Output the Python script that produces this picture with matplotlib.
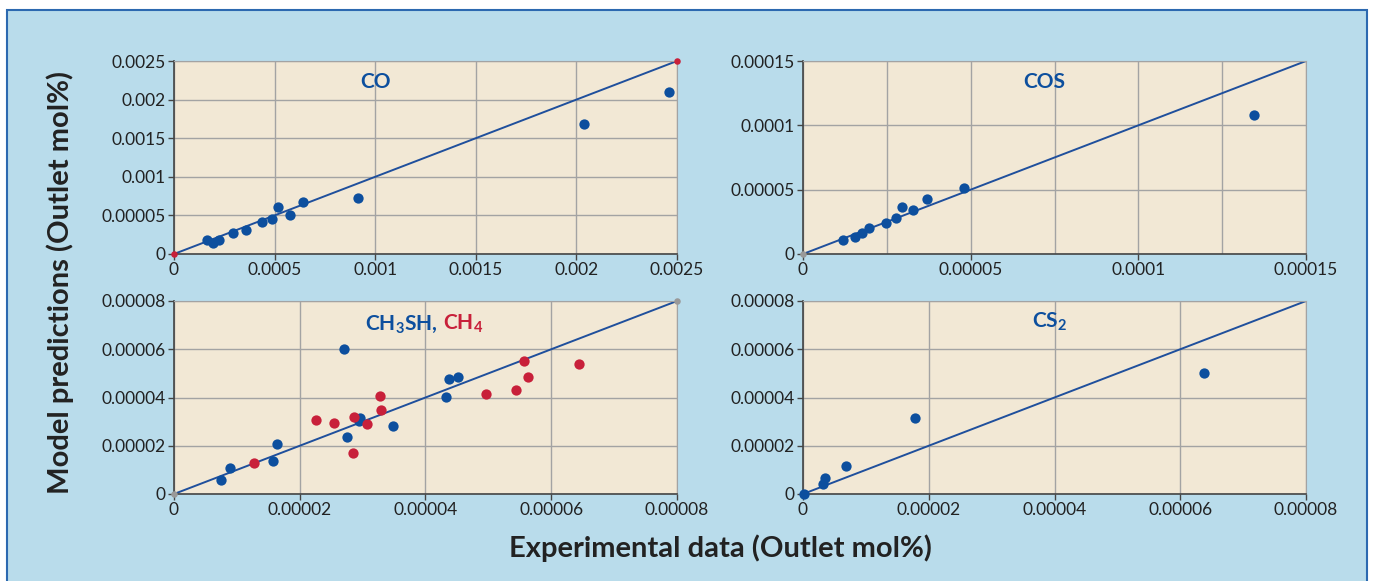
import matplotlib
matplotlib.use("Agg")
import matplotlib.pyplot as plt
from matplotlib.patches import Rectangle
from matplotlib.ticker import MultipleLocator

plt.rcParams['font.family'] = ['Lato', 'DejaVu Sans']
plt.rcParams['mathtext.fontset'] = 'custom'
plt.rcParams['mathtext.bf'] = 'Lato:bold'
plt.rcParams['mathtext.rm'] = 'Lato:bold'

# CO panel
co_x = [0.000162, 0.000195, 0.000223, 0.000292, 0.000357, 0.000437, 0.000485,
        0.000517, 0.000578, 0.000639, 0.000914, 0.002036, 0.002462]
co_y = [0.000175, 0.000144, 0.000175, 0.000271, 0.000315, 0.000415, 0.000450,
        0.000608, 0.000511, 0.000677, 0.000730, 0.001680, 0.002100]
co_ticks = [0, 0.0005, 0.001, 0.0015, 0.002, 0.0025]
co_xlabels = ['0', '0.0005', '0.001', '0.0015', '0.002', '0.0025']
co_ylabels = ['0', '0.00005', '0.001', '0.0015', '0.002', '0.0025']

# COS panel
cos_x = [0.0000118, 0.0000155, 0.0000177, 0.0000198, 0.0000248, 0.0000278,
         0.0000294, 0.0000329, 0.0000371, 0.0000480, 0.0001345]
cos_y = [0.0000110, 0.0000136, 0.0000162, 0.0000201, 0.0000240, 0.0000280,
         0.0000366, 0.0000340, 0.0000429, 0.0000515, 0.0001077]
cos_ticks = [0, 0.00005, 0.0001, 0.00015]
cos_labels = ['0', '0.00005', '0.0001', '0.00015']

# CH3SH (blue) and CH4 (red) panel
ch3sh_x = [0.00000745, 0.00000898, 0.0000157, 0.0000164, 0.0000271, 0.0000275,
           0.0000296, 0.0000295, 0.0000348, 0.0000432, 0.0000438, 0.0000452]
ch3sh_y = [0.00000587, 0.0000108, 0.0000138, 0.0000206, 0.0000600, 0.0000238,
           0.0000317, 0.0000303, 0.0000283, 0.0000404, 0.0000478, 0.0000483]
ch4_x = [0.0000128, 0.0000226, 0.0000254, 0.0000284, 0.0000287, 0.0000307,
         0.0000328, 0.0000330, 0.0000497, 0.0000544, 0.0000557, 0.0000563,
         0.0000644]
ch4_y = [0.0000127, 0.0000306, 0.0000295, 0.0000168, 0.0000320, 0.0000290,
         0.0000407, 0.0000348, 0.0000415, 0.0000431, 0.0000552, 0.0000485,
         0.0000540]

# CS2 panel
cs2_x = [0.0000001, 0.0000032, 0.0000035, 0.0000069, 0.0000178, 0.0000637]
cs2_y = [0.0000001, 0.0000041, 0.0000066, 0.0000116, 0.0000316, 0.0000502]

small_ticks = [0, 0.00002, 0.00004, 0.00006, 0.00008]
small_labels = ['0', '0.00002', '0.00004', '0.00006', '0.00008']

blue = '#0d4f9e'
red = '#c8203a'
beige = '#f2e8d5'
light_blue = '#b9dceb'
grid_col = '#a3a3a3'

fig = plt.figure(figsize=(13.73, 5.81), dpi=100, facecolor='white')
fig.patches.append(Rectangle((0.0051, -0.01), 0.9905, 0.9928, transform=fig.transFigure,
                             facecolor=light_blue, edgecolor='#2c69b0', lw=1.5, zorder=-5))

w, h = 503 / 1373, 193 / 581
positions = [(174 / 1373, 1 - 254 / 581), (803 / 1373, 1 - 254 / 581),
             (174 / 1373, 1 - 494 / 581), (803 / 1373, 1 - 494 / 581)]
axes = [fig.add_axes([x, y, w, h]) for x, y in positions]


def style(ax, lim, ticks, xlabels, ylabels, xgrid_step, ygrid_step):
    ax.set_facecolor(beige)
    ax.set_xlim(0, lim)
    ax.set_ylim(0, lim)
    ax.set_xticks(ticks)
    ax.set_xticklabels(xlabels)
    ax.set_yticks(ticks)
    ax.set_yticklabels(ylabels)
    ax.xaxis.set_minor_locator(MultipleLocator(xgrid_step))
    ax.yaxis.set_minor_locator(MultipleLocator(ygrid_step))
    ax.tick_params(which='minor', length=0)
    ax.tick_params(which='major', labelsize=12.5, length=4, width=1, color='#444444',
                   pad=2, labelcolor='#222222')
    ax.grid(True, which='both', color=grid_col, lw=1)
    ax.set_axisbelow(True)
    for s in ['top', 'right']:
        ax.spines[s].set_color(grid_col)
    for s in ['left', 'bottom']:
        ax.spines[s].set_color('#444444')
        ax.spines[s].set_linewidth(1.2)
    ax.plot([0, lim], [0, lim], color='#1f4f9c', lw=1.4, zorder=2)


title_kw = dict(fontsize=15, fontweight='bold', va='center')

ax = axes[0]
style(ax, 0.0025, co_ticks, co_xlabels, co_ylabels, 0.0005, 0.0005)
ax.scatter(co_x, co_y, s=55, color=blue, zorder=3, lw=0)
ax.scatter([0, 0.0025], [0, 0.0025], s=22, color=red, zorder=4, lw=0, clip_on=False)
ax.text(0.40, 0.89, 'CO', transform=ax.transAxes, color=blue, ha='center', **title_kw)

ax = axes[1]
style(ax, 0.00015, cos_ticks, cos_labels, cos_labels, 0.000025, 0.00005)
ax.scatter(cos_x, cos_y, s=55, color=blue, zorder=3, lw=0)
ax.scatter([0], [0], s=22, color='#999999', zorder=4, lw=0, clip_on=False)
ax.text(0.48, 0.89, 'COS', transform=ax.transAxes, color=blue, ha='center', **title_kw)

ax = axes[2]
style(ax, 0.00008, small_ticks, small_labels, small_labels, 0.00002, 0.00002)
ax.scatter(ch3sh_x, ch3sh_y, s=55, color=blue, zorder=3, lw=0)
ax.scatter(ch4_x, ch4_y, s=55, color=red, zorder=3, lw=0)
ax.scatter([0, 0.00008], [0, 0.00008], s=22, color='#999999', zorder=4, lw=0, clip_on=False)
ax.text(0.524, 0.88, r'$\mathbf{CH_3SH,}$', transform=ax.transAxes, color=blue,
        ha='right', **title_kw)
ax.text(0.534, 0.88, r'$\mathbf{CH_4}$', transform=ax.transAxes, color=red,
        ha='left', **title_kw)

ax = axes[3]
style(ax, 0.00008, small_ticks, small_labels, small_labels, 0.00002, 0.00002)
ax.scatter(cs2_x, cs2_y, s=55, color=blue, zorder=3, lw=0, clip_on=False)
ax.text(0.49, 0.89, r'$\mathbf{CS_2}$', transform=ax.transAxes, color=blue,
        ha='center', **title_kw)

fig.text(0.044, 0.513, 'Model predictions (Outlet mol%)', rotation=90, fontsize=21,
         fontweight='bold', color='#222222', ha='center', va='center')
fig.text(0.525, 0.057, 'Experimental data (Outlet mol%)', fontsize=21,
         fontweight='bold', color='#222222', ha='center', va='center')

fig.savefig('out.png', dpi=100, facecolor='white')
